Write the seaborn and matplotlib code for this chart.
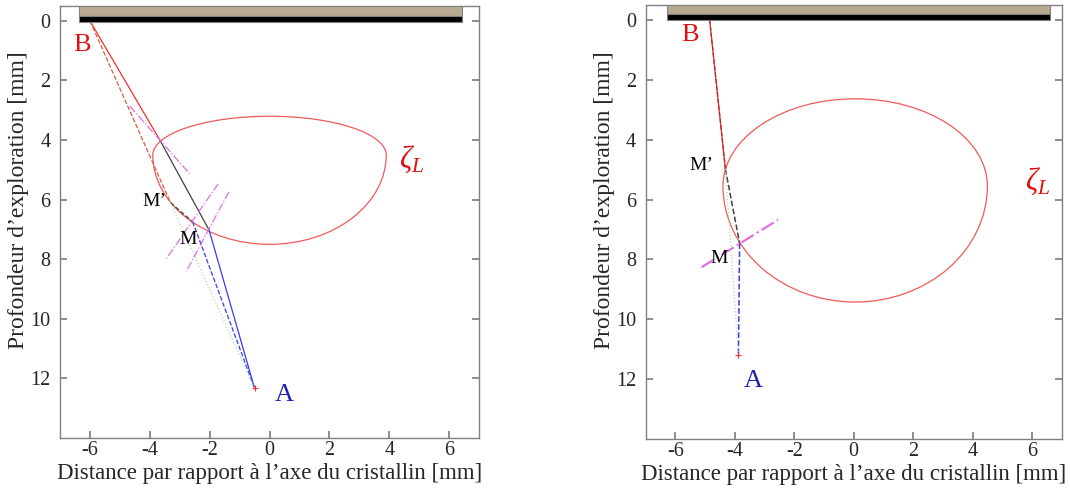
import matplotlib
matplotlib.use("Agg")
import matplotlib.pyplot as plt
from matplotlib.patches import Arc, Rectangle
import seaborn as sns

sns.set_theme(style="white")
plt.rcParams["font.family"] = ["Liberation Serif", "DejaVu Serif"]
plt.rcParams["mathtext.fontset"] = "custom"
plt.rcParams["mathtext.rm"] = "Liberation Serif"
plt.rcParams["mathtext.it"] = "Liberation Serif:italic"
plt.rcParams["axes.unicode_minus"] = False

# ---------------- data ----------------
x_ticks = [-6, -4, -2, 0, 2, 4, 6]
y_ticks = [0, 2, 4, 6, 8, 10, 12]
x_label = "Distance par rapport à l’axe du cristallin [mm]"
y_label = "Profondeur d’exploration [mm]"

# left panel : key points (x, depth)
L_B = (-6.0, 0.0)
L_A = (-0.5, 12.33)
L_entry = (-3.67, 3.99)
L_M = (-2.02, 7.02)
L_Mp = (-3.31, 6.10)
L_M2 = (-2.57, 6.74)
# lens contour (centre, half-width, upper / lower half-heights)
L_lens_center = (0.0, 4.5)
L_lens_halfwidth = 3.9
L_lens_up = 1.3
L_lens_low = 3.0
# normals (dash-dot magenta)
L_norm1_x = [-4.67, -2.67]
L_norm1_y = [2.86, 5.13]
L_norm2_x = [-1.72, -3.44]
L_norm2_y = [5.47, 7.97]
L_norm3_x = [-1.36, -2.78]
L_norm3_y = [5.74, 8.41]
L_bar = (-6.37, 6.43)

# right panel
R_B = (-4.85, 0.0)
R_A = (-3.88, 11.2)
R_Mp = (-4.32, 4.98)
R_M = (-3.84, 7.46)
R_lens_center = (0.05, 5.55)
R_lens_halfwidth = 4.45
R_lens_up = 2.91
R_lens_low = 3.87
R_norm_x = [-5.12, -2.55]
R_norm_y = [8.26, 6.68]
R_bar = (-6.3, 6.6)

bar_top, bar_mid, bar_bot = -0.5, -0.18, 0.02

RED = "#ee3030"
LENS = "#f05a5a"
BLUE = "#3a3af0"
GREEN = "#a8e0a0"
MAG = "#e070e8"
DARK = "#404040"

fig = plt.figure(figsize=(10.7, 4.93), dpi=100)
axL = fig.add_axes([0.0561, 0.1116, 0.3916, 0.8762])
axR = fig.add_axes([0.6035, 0.1089, 0.3887, 0.8816])


def seg(ax, p, q, color, ls="-", lw=0.9):
    sns.lineplot(x=[p[0], q[0]], y=[p[1], q[1]], ax=ax, color=color,
                 linestyle=ls, linewidth=lw, sort=False, estimator=None)


def lens(ax, c, a, bu, bl):
    ax.add_patch(Arc(c, 2 * a, 2 * bu, theta1=180, theta2=360,
                     color=LENS, lw=0.9))
    ax.add_patch(Arc(c, 2 * a, 2 * bl, theta1=0, theta2=180,
                     color=LENS, lw=0.9))


def style(ax, bar):
    ax.set_xlim(-7, 7)
    ax.set_ylim(14, -0.5)
    ax.set_xticks(x_ticks)
    ax.set_yticks(y_ticks)
    ax.set_xticklabels([str(v) for v in x_ticks], fontsize=14.5)
    ax.set_yticklabels([str(v) for v in y_ticks], fontsize=14.5)
    ax.tick_params(direction="in", length=5, color="#808080",
                   top=True, right=True, bottom=True, left=True)
    ax.tick_params(axis="x", pad=2)
    ax.tick_params(axis="y", pad=7)
    for s in ax.spines.values():
        s.set_color("#808080")
        s.set_linewidth(1.0)
        s.set_visible(True)
    ax.set_xlabel(x_label, fontsize=16.5, labelpad=2)
    ax.set_ylabel(y_label, fontsize=17)
    ax.yaxis.set_label_coords(-0.074, 0.55)
    ax.add_patch(Rectangle((bar[0], bar_top), bar[1] - bar[0], bar_mid - bar_top,
                           facecolor="#b8aa90", edgecolor="#808080", lw=0.8, zorder=5))
    ax.add_patch(Rectangle((bar[0], bar_mid), bar[1] - bar[0], bar_bot - bar_mid,
                           facecolor="black", edgecolor="#808080", lw=0.8, zorder=5))
    ax.grid(False)


# ---------------- left panel ----------------
lens(axL, L_lens_center, L_lens_halfwidth, L_lens_up, L_lens_low)
seg(axL, L_B, L_entry, RED)
seg(axL, L_entry, L_M, DARK)
seg(axL, L_M, L_A, BLUE)
seg(axL, L_B, L_Mp, "#e05a40", ls="--")
seg(axL, L_Mp, L_M2, DARK, ls="--")
seg(axL, L_M2, L_A, BLUE, ls="--")
seg(axL, L_Mp, L_A, GREEN, ls=":")
for xs, ys in [(L_norm1_x, L_norm1_y), (L_norm2_x, L_norm2_y), (L_norm3_x, L_norm3_y)]:
    sns.lineplot(x=xs, y=ys, ax=axL, color=MAG, linestyle="-.", linewidth=0.9,
                 sort=False, estimator=None)
axL.plot([L_A[0]], [L_A[1]], marker="+", color=RED, ms=5, mew=0.8)
axL.text(-6.27, 0.8, "B", color="#e01010", fontsize=19, ha="center", va="center")
axL.text(0.5, 12.55, "A", color="#2020b0", fontsize=19, ha="center", va="center")
axL.text(-3.85, 6.07, "M’", color="black", fontsize=14, ha="center", va="center")
axL.text(-2.72, 7.33, "M", color="black", fontsize=14, ha="center", va="center")
axL.text(4.75, 4.65, r"$\zeta_L$", color="#e01010", fontsize=22, ha="center", va="center")
style(axL, L_bar)

# ---------------- right panel ----------------
lens(axR, R_lens_center, R_lens_halfwidth, R_lens_up, R_lens_low)
seg(axR, R_B, R_Mp, RED)
seg(axR, R_B, R_Mp, "#c02020", ls="--")
seg(axR, R_Mp, R_M, DARK, ls="--", lw=1.1)
seg(axR, R_M, R_A, BLUE, ls="--", lw=1.1)
seg(axR, R_Mp, R_A, GREEN, ls=":")
sns.lineplot(x=R_norm_x, y=R_norm_y, ax=axR, color=MAG, linestyle="-.",
             linewidth=1.6, sort=False, estimator=None)
axR.plot([R_A[0]], [R_A[1]], marker="+", color=RED, ms=5, mew=0.8)
axR.text(-5.5, 0.5, "B", color="#e01010", fontsize=19, ha="center", va="center")
axR.text(-3.38, 12.05, "A", color="#2020b0", fontsize=19, ha="center", va="center")
axR.text(-5.13, 4.87, "M’", color="black", fontsize=14, ha="center", va="center")
axR.text(-4.52, 7.97, "M", color="black", fontsize=14, ha="center", va="center")
axR.text(6.2, 5.4, r"$\zeta_L$", color="#e01010", fontsize=22, ha="center", va="center")
style(axR, R_bar)

fig.savefig("out.png", dpi=100)
